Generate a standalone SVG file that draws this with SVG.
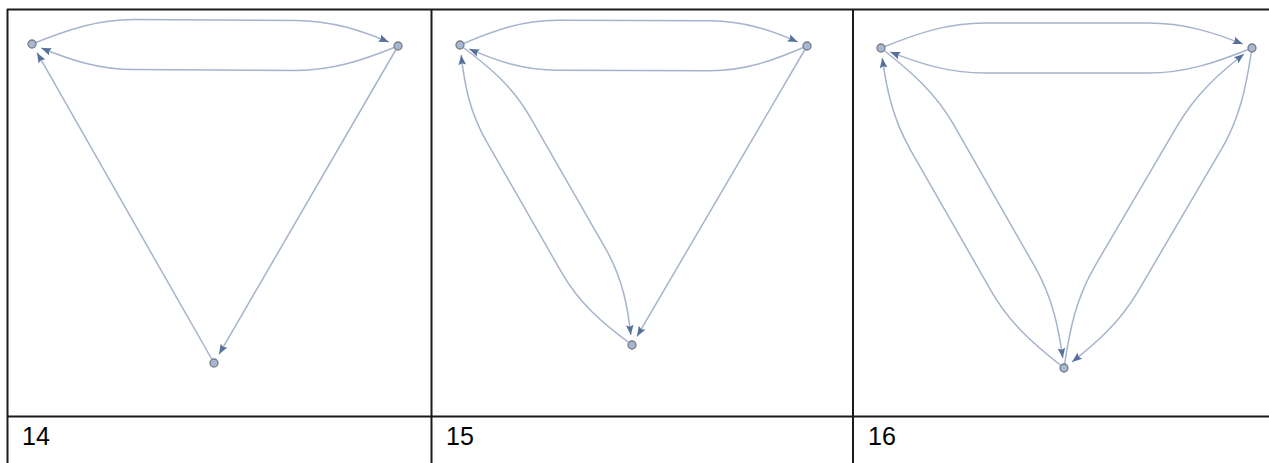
<svg xmlns="http://www.w3.org/2000/svg" width="1269" height="463" viewBox="0 0 1269 463">
<style>
.grid{stroke:#1a1a1a;stroke-width:2;fill:none}
.e{fill:none;stroke:#a5b3cd;stroke-width:1.5;marker-end:url(#ah)}
.n{fill:#a7b7d3;stroke:#7a7d82;stroke-width:1.3}
.lbl{font-family:"Liberation Sans",Arial,sans-serif;font-size:25px;fill:#000}
</style>
<defs>
<marker id="ah" markerUnits="userSpaceOnUse" viewBox="-12 -5 13 10" markerWidth="13" markerHeight="10" refX="0" refY="0" orient="auto">
<path d="M0,0 L-10,-3.8 L-8.4,0 L-10,3.8 Z" fill="#56709c"/>
</marker>
</defs>
<rect width="1269" height="463" fill="#fff"/>
<g id="table">
<line class="grid" x1="7" y1="9.5" x2="1269" y2="9.5"/>
<line class="grid" x1="7.5" y1="9" x2="7.5" y2="463"/>
<line class="grid" x1="431.5" y1="9" x2="431.5" y2="463"/>
<line class="grid" x1="853" y1="9" x2="853" y2="463"/>
<line class="grid" x1="7" y1="416.5" x2="1269" y2="416.5"/>
</g>
<g id="connectors">
<path class="e" transform="translate(32,44) rotate(0.313)" d="M0,0 C36.6,-15 65.9,-25 102.5,-25 L263.5,-25 C300.1,-25 329.4,-15 356.8,-3.9"/>
<path class="e" transform="translate(398,46) rotate(180.313)" d="M0,0 C36.6,-15 65.9,-25 102.5,-25 L263.5,-25 C300.1,-25 329.4,-15 356.8,-3.9"/>
<path class="e" d="M214,363 L37,52.7"/>
<path class="e" d="M398,46 L219,354.3"/>
<path class="e" transform="translate(460,45) rotate(0.165)" d="M0,0 C34.7,-15 62.5,-25 97.2,-25 L249.8,-25 C284.5,-25 312.3,-15 337.8,-3.9"/>
<path class="e" transform="translate(807,46) rotate(180.165)" d="M0,0 C34.7,-15 62.5,-25 97.2,-25 L249.8,-25 C284.5,-25 312.3,-15 337.8,-3.9"/>
<path class="e" transform="translate(460,45) rotate(60.17)" d="M0,0 C34.6,-15 62.2,-25 96.8,-25 L249,-25 C283.6,-25 311.2,-15 336.6,-3.9"/>
<path class="e" transform="translate(632,345) rotate(240.17)" d="M0,0 C34.6,-15 62.2,-25 96.8,-25 L249,-25 C283.6,-25 311.2,-15 336.6,-3.9"/>
<path class="e" d="M807,46 L637,336.4"/>
<path class="e" transform="translate(881,48) rotate(0)" d="M0,0 C37.1,-15 66.8,-25 103.9,-25 L267.1,-25 C304.2,-25 333.9,-15 361.8,-3.9"/>
<path class="e" transform="translate(1252,48) rotate(180)" d="M0,0 C37.1,-15 66.8,-25 103.9,-25 L267.1,-25 C304.2,-25 333.9,-15 361.8,-3.9"/>
<path class="e" transform="translate(881,48) rotate(60.24)" d="M0,0 C36.9,-15 66.3,-25 103.2,-25 L265.4,-25 C302.3,-25 331.7,-15 359.4,-3.9"/>
<path class="e" transform="translate(1064,368) rotate(240.24)" d="M0,0 C36.9,-15 66.3,-25 103.2,-25 L265.4,-25 C302.3,-25 331.7,-15 359.4,-3.9"/>
<path class="e" transform="translate(1064,368) rotate(-59.56)" d="M0,0 C37.1,-15 66.8,-25 103.9,-25 L267.2,-25 C304.3,-25 334,-15 361.9,-3.9"/>
<path class="e" transform="translate(1252,48) rotate(120.44)" d="M0,0 C37.1,-15 66.8,-25 103.9,-25 L267.2,-25 C304.3,-25 334,-15 361.9,-3.9"/>
</g>
<g id="p14-a"><circle class="n" cx="32" cy="44" r="4"/></g>
<g id="p14-b"><circle class="n" cx="398" cy="46" r="4"/></g>
<g id="p14-c"><circle class="n" cx="214" cy="363" r="4"/></g>
<g id="p15-a"><circle class="n" cx="460" cy="45" r="4"/></g>
<g id="p15-b"><circle class="n" cx="807" cy="46" r="4"/></g>
<g id="p15-c"><circle class="n" cx="632" cy="345" r="4"/></g>
<g id="p16-a"><circle class="n" cx="881" cy="48" r="4"/></g>
<g id="p16-b"><circle class="n" cx="1252" cy="48" r="4"/></g>
<g id="p16-c"><circle class="n" cx="1064" cy="368" r="4"/></g>
<g id="labels">
<text class="lbl" x="22" y="445">14</text>
<text class="lbl" x="446" y="445">15</text>
<text class="lbl" x="868" y="445">16</text>
</g>
</svg>
